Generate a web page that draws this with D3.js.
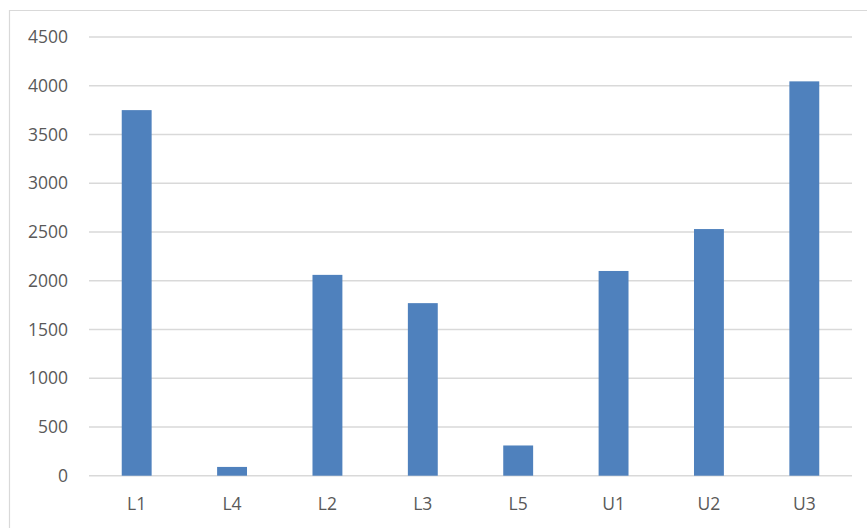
<!DOCTYPE html>
<html>
<head>
<meta charset="utf-8">
<script src="https://cdn.jsdelivr.net/npm/d3@7"></script>
<style>
html,body{margin:0;padding:0;background:#fff;}
svg{display:block;}
text{font-family:"Open Sans","Noto Sans",sans-serif;fill:#595959;}
</style>
</head>
<body>
<svg id="chart" width="867" height="528"></svg>
<script>
const categories = ["L1","L4","L2","L3","L5","U1","U2","U3"];
const values = [3750, 90, 2060, 1770, 310, 2100, 2530, 4045];
const yTicks = [0,500,1000,1500,2000,2500,3000,3500,4000,4500];

const svg = d3.select("#chart");
const W = 867, H = 528;
const plot = {left: 89, right: 852, top: 37, bottom: 475.7};

// chart border (left and top visible)
svg.append("line").attr("x1",9.5).attr("x2",9.5).attr("y1",10).attr("y2",H)
  .attr("stroke","#d9d9d9").attr("stroke-width",1.2);
svg.append("line").attr("x1",9).attr("x2",W).attr("y1",10.5).attr("y2",10.5)
  .attr("stroke","#d9d9d9").attr("stroke-width",1.2);

const x = d3.scaleBand().domain(categories).range([plot.left, plot.right]).padding(0);
const y = d3.scaleLinear().domain([0,4500]).range([plot.bottom, plot.top]);

// gridlines
svg.append("g").selectAll("line").data(yTicks).join("line")
  .attr("x1",plot.left).attr("x2",plot.right)
  .attr("y1",d=>y(d)).attr("y2",d=>y(d))
  .attr("stroke","#d9d9d9").attr("stroke-width",1.6);

// y labels
svg.append("g").selectAll("text").data(yTicks).join("text")
  .attr("x",68).attr("y",d=>y(d)).attr("dy","0.35em")
  .attr("text-anchor","end").attr("font-size",17.5)
  .text(d=>d);

// bars
const barW = x.bandwidth()*0.3135;
svg.append("g").selectAll("rect").data(values).join("rect")
  .attr("x",(d,i)=>x(categories[i]) + x.bandwidth()/2 - barW/2)
  .attr("width",barW)
  .attr("y",d=>y(d))
  .attr("height",d=>y(0)-y(d))
  .attr("fill","#4f81bd");

// x labels
svg.append("g").selectAll("text").data(categories).join("text")
  .attr("x",d=>x(d)+x.bandwidth()/2).attr("y",510)
  .attr("text-anchor","middle").attr("font-size",17.5)
  .text(d=>d);
</script>
</body>
</html>
